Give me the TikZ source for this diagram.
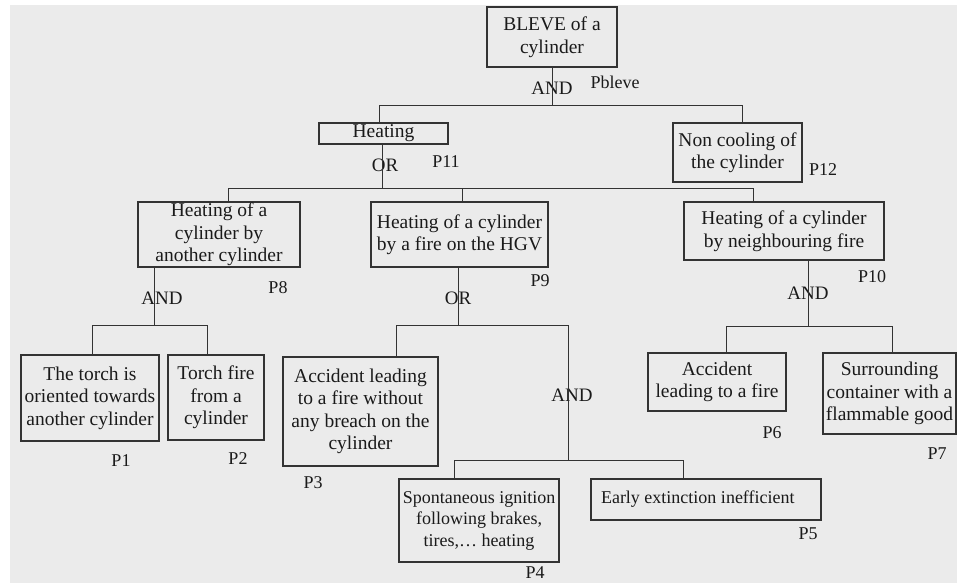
\documentclass[tikz,border=0pt]{standalone}
\usepackage{fontspec}
\setmainfont{Liberation Serif}
\definecolor{bgc}{HTML}{EBEBEB}
\definecolor{linec}{HTML}{333333}
\definecolor{txtc}{HTML}{1A1A1A}
\begin{document}
\begin{tikzpicture}[x=1pt,y=-1pt,
  box/.style={draw=linec, line width=1.1pt, inner sep=0pt, align=center, text=txtc, font=\fontsize{19.5}{22.5}\selectfont},
  sbox/.style={box, font=\fontsize{18}{21.5}\selectfont},
  gate/.style={inner sep=0pt, text=txtc, font=\fontsize{19}{22}\selectfont},
  plabel/.style={inner sep=0pt, text=txtc, font=\fontsize{18}{20}\selectfont},
  conn/.style={draw=linec, line width=1pt}]
\useasboundingbox (0,0) rectangle (957,583);
\fill[white] (0,0) rectangle (957,583);
\fill[bgc] (10,5) rectangle (957,583);

% boxes
\node[box, minimum width=130, minimum height=60] (bleve) at (552,37) {BLEVE of a\\cylinder};
\node[box, minimum width=129, minimum height=21] (heat) at (383.5,133.5) {\raisebox{-2pt}{Heating}};
\node[box, minimum width=129, minimum height=59] (noncool) at (737.5,152.5) {Non cooling of\\the cylinder};
\node[box, minimum width=162, minimum height=65] (p8) at (219,234.5) {Heating of a\\cylinder by\\another cylinder};
\node[box, minimum width=177, minimum height=65] (p9) at (459.5,234.5) {Heating of a cylinder\\by a fire on the HGV};
\node[box, minimum width=200, minimum height=58] (p10) at (784,231) {Heating of a cylinder\\by neighbouring fire};
\node[box, minimum width=138, minimum height=86] (p1) at (90,398) {The torch is\\oriented towards\\another cylinder};
\node[box, minimum width=96, minimum height=85] (p2) at (216,397.5) {Torch fire\\from a\\cylinder};
\node[box, minimum width=155, minimum height=109] (p3) at (360.5,411.5) {Accident leading\\to a fire without\\any breach on the\\cylinder};
\node[sbox, minimum width=160, minimum height=83] (p4) at (479,520.5) {Spontaneous ignition\\following brakes,\\tires,… heating};
\node[sbox, minimum width=230, minimum height=41] (p5) at (706,499.5) {\makebox[210pt][l]{Early extinction inefficient}};
\node[box, minimum width=138, minimum height=58] (p6) at (717,382) {Accident\\leading to a fire};
\node[box, minimum width=133, minimum height=81] (p7) at (889.5,393.5) {Surrounding\\container with a\\flammable good};

% gates
\node[gate] (g0) at (552,88) {AND};
\node[gate] (g11) at (385,165) {OR};
\node[gate] (g8) at (162,298) {AND};
\node[gate] (g9) at (458,298) {OR};
\node[gate] (g10) at (808,293) {AND};
\node[gate] (g34) at (572,395) {AND};

% probability labels
\node[plabel] (lb) at (615,82) {Pbleve};
\node[plabel] (l11) at (446,162) {P11};
\node[plabel] (l12) at (823,170) {P12};
\node[plabel] (l8) at (278,288) {P8};
\node[plabel] (l9) at (540,281) {P9};
\node[plabel] (l10) at (872,277) {P10};
\node[plabel] (l1) at (121,461) {P1};
\node[plabel] (l2) at (238,459) {P2};
\node[plabel] (l3) at (313,483) {P3};
\node[plabel] (l4) at (535,573) {P4};
\node[plabel] (l5) at (808,534) {P5};
\node[plabel] (l6) at (772,433) {P6};
\node[plabel] (l7) at (937,454) {P7};

% connectors
\coordinate (j0) at (552,106);
\coordinate (b0l) at (379,106);
\coordinate (b0r) at (742,106);
\draw[conn] (bleve.south) -- (j0);
\draw[conn] (heat.north -| b0l) -- (b0l) -- (b0r) -- (noncool.north -| b0r);

\coordinate (j11) at (382,188);
\coordinate (b1l) at (228,188);
\coordinate (b1m) at (462,188);
\coordinate (b1r) at (753,188);
\draw[conn] (heat.south -| j11) -- (j11);
\draw[conn] (p8.north -| b1l) -- (b1l) -- (b1r) -- (p10.north -| b1r);
\draw[conn] (b1m) -- (p9.north -| b1m);

\coordinate (j8) at (154,325);
\coordinate (b8l) at (92,325);
\coordinate (b8r) at (207,325);
\draw[conn] (p8.south -| j8) -- (j8);
\draw[conn] (p1.north -| b8l) -- (b8l) -- (b8r) -- (p2.north -| b8r);

\coordinate (j9) at (458,325);
\coordinate (b9l) at (396,325);
\coordinate (b9r) at (568,325);
\coordinate (j34) at (568,460);
\draw[conn] (p9.south -| j9) -- (j9);
\draw[conn] (p3.north -| b9l) -- (b9l) -- (b9r) -- (j34);

\coordinate (b34l) at (454,460);
\coordinate (b34r) at (683,460);
\draw[conn] (p4.north -| b34l) -- (b34l) -- (b34r) -- (p5.north -| b34r);

\coordinate (j10) at (808,326);
\coordinate (b10l) at (726,326);
\coordinate (b10r) at (892,326);
\draw[conn] (p10.south -| j10) -- (j10);
\draw[conn] (p6.north -| b10l) -- (b10l) -- (b10r) -- (p7.north -| b10r);
\end{tikzpicture}
\end{document}
